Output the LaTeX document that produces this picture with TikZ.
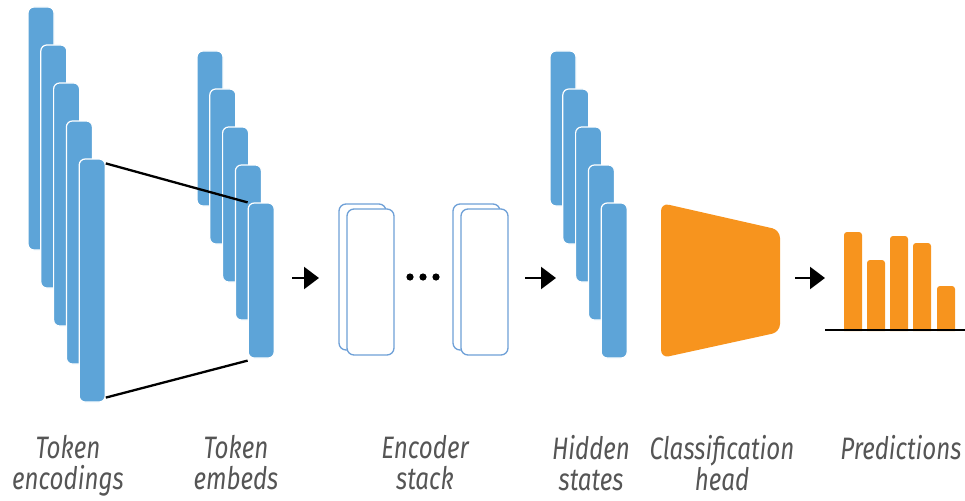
\documentclass[tikz,border=0pt]{standalone}
\usepackage{fontspec}
\usetikzlibrary{arrows.meta}
\newfontfamily\capfont[FakeStretch=0.78]{Fira Sans}
\definecolor{vecblue}{RGB}{93,164,216}
\definecolor{edgeblue}{RGB}{110,160,215}
\definecolor{headorange}{RGB}{247,148,30}
\definecolor{labelgrey}{RGB}{85,85,85}
\tikzset{
vec/.style={
	  draw=white, line width=1.2pt, fill=vecblue, rounded corners=6pt,
	    inner sep=0pt, minimum width=26pt},
encbox/.style={
	  draw=edgeblue, line width=1.3pt, fill=white, rounded corners=7pt,
	    inner sep=0pt, minimum width=47pt, minimum height=146pt},
flow/.style={line width=2.2pt, -{Triangle[length=15pt,width=22pt]}},
caption/.style={align=center, anchor=north, inner sep=0pt, text=labelgrey,
	  font={\capfont\itshape\fontsize{31}{31}\selectfont}}
}

\begin{document}
\begin{tikzpicture}[x=1pt, y=-1pt]
	\useasboundingbox (0,0) rectangle (965,500);
	\foreach \i in {1,...,5} {
		\node[vec, minimum height=243pt] (enc\i) at ({41+12.8*(\i-1)}, {128.5+38*(\i-1)}) {};
		\node[vec, minimum height=155pt] (emb\i) at ({210+12.8*(\i-1)}, {128.5+38*(\i-1)}) {};
		\node[vec, minimum height=155pt] (hid\i) at ({563+12.8*(\i-1)}, {128.5+38*(\i-1)}) {};
	}
	\draw[line width=2.3pt] ([yshift=-5pt]enc5.north east) -- (emb5.north west);
	\draw[line width=2.3pt] ([yshift=5pt]enc5.south east) -- ([yshift=-2pt]emb5.south west);

	\foreach \x/\n in {370.5/1, 484.5/2} {
		\node[encbox] (stk\n back) at (\x-8, 277) {};
		\node[encbox] (stk\n) at (\x, 282) {};
	}
	\foreach \x in {410, 423, 436}
		\fill (\x, 277) circle (3.6pt);

	\fill[headorange, rounded corners=8pt] (661,203) -- (780,230) -- (780,332) -- (661,358) -- cycle;

	\foreach \x/\t in {844/232, 867/260, 890/236, 913/243, 937/286}
		\fill[headorange] (\x,331) {[rounded corners=3pt] -- (\x,\t) -- (\x+18,\t)} -- (\x+18,331) -- cycle;
	\coordinate (axisL) at (825,330);
	\coordinate (axisR) at (965,330);
	\draw[line width=2.4pt] (axisL) -- (axisR);

	\coordinate (a1s) at (292,278); \coordinate (a1e) at (319,278);
	\coordinate (a2s) at (525,278); \coordinate (a2e) at (556,278);
	\coordinate (a3s) at (795,278); \coordinate (a3e) at (825,278);
	\draw[flow] (a1s) -- (a1e);
	\draw[flow] (a2s) -- (a2e);
	\draw[flow] (a3s) -- (a3e);

	\node[caption] (lblenc) at (68,435) {Token\\encodings};
	\node[caption] (lblemb) at (236,435) {Token\\embeds};
	\node[caption] (lblstk) at (425,435) {Encoder\\stack};
	\node[caption] (lblhid) at (591,435) {Hidden\\states};
	\node[caption] (lblcls) at (722,435) {Classification\\head};
	\node[caption] (lblpred) at (901,435) {Predictions};
\end{tikzpicture}
\end{document}
